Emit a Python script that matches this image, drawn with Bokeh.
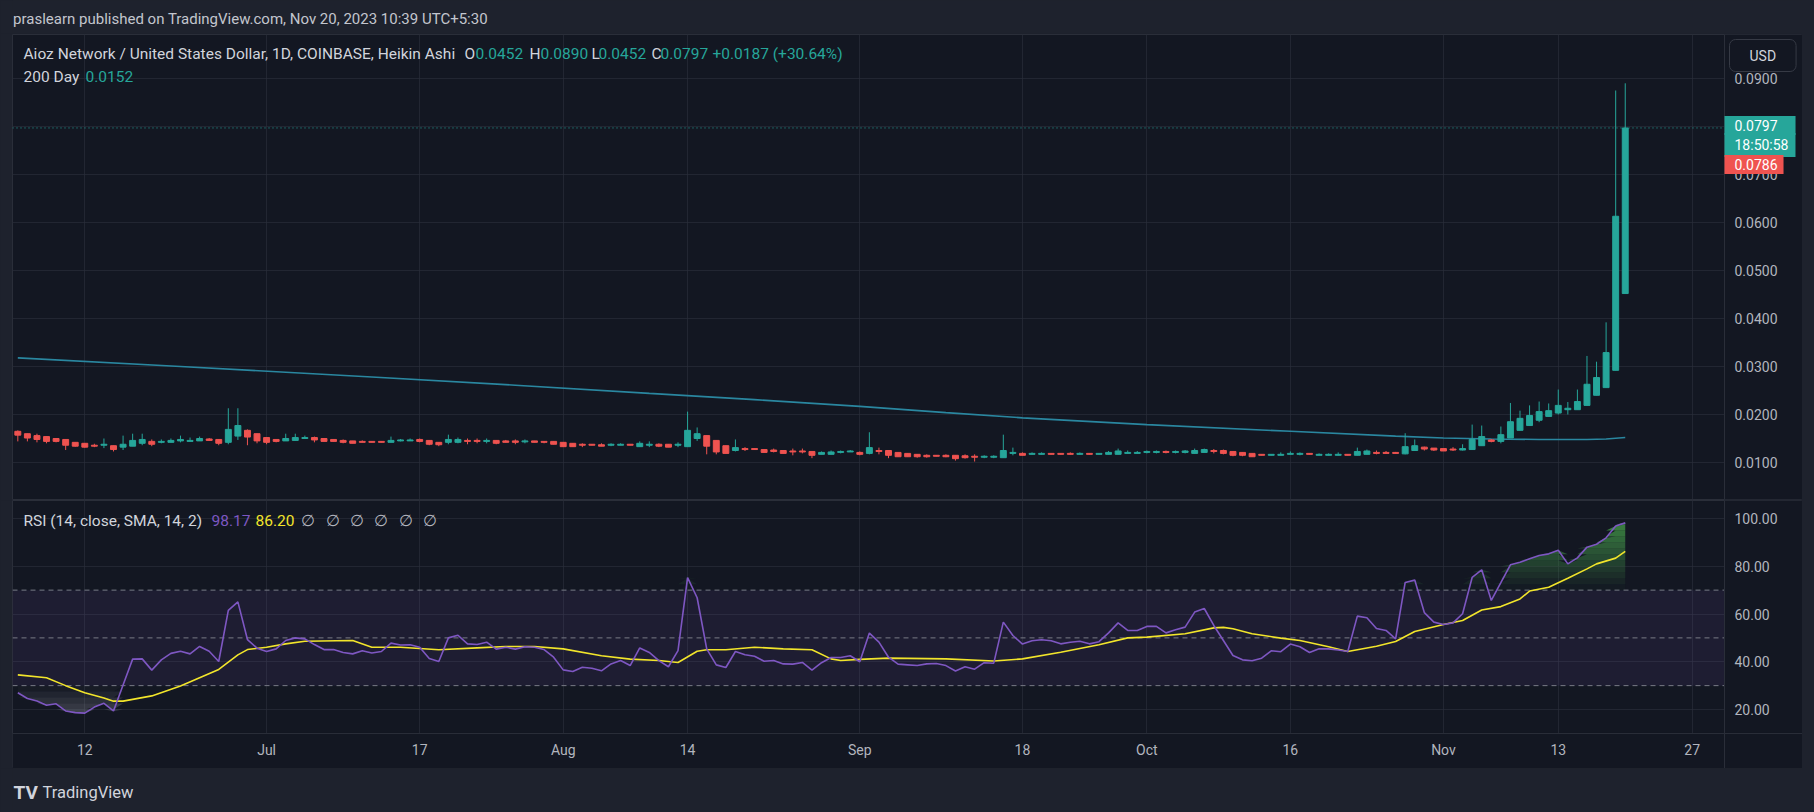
import numpy as np
import pandas as pd
from bokeh.plotting import figure
from bokeh.layouts import column
from bokeh.models import (Range1d, FixedTicker, Label, Span, BoxAnnotation,
                          ColumnDataSource, NumeralTickFormatter, GlobalInlineStyleSheet)
from bokeh.embed import file_html
from bokeh.resources import INLINE

# ---------------- data ----------------
first_bar = "2023-06-05"
last_bar = "2023-11-20"

opens = [
    0.0165, 0.0160, 0.0156, 0.0154, 0.0150, 0.0148, 0.0142, 0.0140, 0.0136, 0.0137,
    0.0135, 0.0132, 0.0134, 0.0140, 0.0144, 0.0142, 0.0142, 0.0145, 0.0145, 0.0145,
    0.0149, 0.0148, 0.0142, 0.0155, 0.0167, 0.0160, 0.0152, 0.0148, 0.0145, 0.0146,
    0.0150, 0.0152, 0.0150, 0.0148, 0.0146, 0.0145, 0.0144, 0.0144, 0.0144, 0.0142,
    0.0145, 0.0145, 0.0148, 0.0146, 0.0142, 0.0142, 0.0142, 0.0146, 0.0146, 0.0145,
    0.0146, 0.0145, 0.0145, 0.0143, 0.0145, 0.0144, 0.0144, 0.0142, 0.0140, 0.0138,
    0.0138, 0.0137, 0.0136, 0.0136, 0.0138, 0.0133, 0.0136, 0.0138, 0.0138, 0.0136,
    0.0133, 0.0150, 0.0156, 0.0146, 0.0135, 0.0125, 0.0129, 0.0129, 0.0127, 0.0126,
    0.0125, 0.0124, 0.0124, 0.0123, 0.0117, 0.0117, 0.0121, 0.0122, 0.0121, 0.0119,
    0.0125, 0.0125, 0.0121, 0.0119, 0.0117, 0.0115, 0.0115, 0.0115, 0.0115, 0.0114,
    0.0113, 0.0111, 0.0111, 0.0110, 0.0119, 0.0119, 0.0117, 0.0117, 0.0119, 0.0119,
    0.0119, 0.0117, 0.0119, 0.0117, 0.0117, 0.0117, 0.0119, 0.0119, 0.0121, 0.0121,
    0.0123, 0.0121, 0.0121, 0.0119, 0.0121, 0.0125, 0.0125, 0.0123, 0.0121, 0.0119,
    0.0117, 0.0115, 0.0115, 0.0117, 0.0117, 0.0119, 0.0115, 0.0115, 0.0115, 0.0117,
    0.0115, 0.0117, 0.0121, 0.0121, 0.0121, 0.0118, 0.0125, 0.0132, 0.0130, 0.0129,
    0.0128, 0.0126, 0.0127, 0.0135, 0.0147, 0.0144, 0.0151, 0.0167, 0.0177, 0.0188,
    0.0196, 0.0203, 0.0210, 0.0210, 0.0219, 0.0240, 0.0256, 0.0292, 0.0452,
]
highs = [
    0.0167, 0.0160, 0.0160, 0.0154, 0.0150, 0.0148, 0.0142, 0.0140, 0.0139, 0.0150,
    0.0135, 0.0156, 0.0160, 0.0160, 0.0148, 0.0148, 0.0150, 0.0156, 0.0152, 0.0154,
    0.0151, 0.0148, 0.0213, 0.0213, 0.0169, 0.0160, 0.0152, 0.0148, 0.0160, 0.0160,
    0.0156, 0.0154, 0.0150, 0.0148, 0.0148, 0.0145, 0.0146, 0.0144, 0.0144, 0.0154,
    0.0149, 0.0150, 0.0150, 0.0146, 0.0142, 0.0158, 0.0152, 0.0150, 0.0150, 0.0150,
    0.0146, 0.0147, 0.0148, 0.0148, 0.0145, 0.0144, 0.0144, 0.0142, 0.0140, 0.0140,
    0.0138, 0.0140, 0.0140, 0.0140, 0.0138, 0.0144, 0.0144, 0.0140, 0.0138, 0.0142,
    0.0206, 0.0173, 0.0156, 0.0146, 0.0135, 0.0148, 0.0132, 0.0129, 0.0127, 0.0129,
    0.0125, 0.0129, 0.0129, 0.0123, 0.0123, 0.0125, 0.0125, 0.0126, 0.0123, 0.0163,
    0.0131, 0.0125, 0.0121, 0.0119, 0.0117, 0.0117, 0.0115, 0.0117, 0.0115, 0.0117,
    0.0117, 0.0115, 0.0115, 0.0158, 0.0131, 0.0121, 0.0121, 0.0121, 0.0119, 0.0119,
    0.0121, 0.0121, 0.0119, 0.0119, 0.0124, 0.0129, 0.0125, 0.0124, 0.0125, 0.0125,
    0.0125, 0.0125, 0.0126, 0.0129, 0.0129, 0.0128, 0.0127, 0.0123, 0.0121, 0.0119,
    0.0117, 0.0117, 0.0121, 0.0123, 0.0121, 0.0119, 0.0119, 0.0119, 0.0121, 0.0117,
    0.0131, 0.0127, 0.0125, 0.0124, 0.0122, 0.0161, 0.0148, 0.0133, 0.0130, 0.0129,
    0.0132, 0.0138, 0.0179, 0.0177, 0.0149, 0.0175, 0.0224, 0.0208, 0.0219, 0.0227,
    0.0223, 0.0252, 0.0226, 0.0252, 0.0322, 0.0310, 0.0392, 0.0875, 0.0890,
]
lows = [
    0.0144, 0.0144, 0.0142, 0.0140, 0.0142, 0.0126, 0.0133, 0.0131, 0.0132, 0.0130,
    0.0123, 0.0126, 0.0134, 0.0136, 0.0134, 0.0140, 0.0142, 0.0142, 0.0145, 0.0145,
    0.0145, 0.0136, 0.0138, 0.0147, 0.0136, 0.0140, 0.0138, 0.0142, 0.0145, 0.0146,
    0.0149, 0.0142, 0.0144, 0.0144, 0.0140, 0.0140, 0.0142, 0.0142, 0.0142, 0.0142,
    0.0144, 0.0145, 0.0142, 0.0136, 0.0134, 0.0138, 0.0140, 0.0138, 0.0140, 0.0140,
    0.0138, 0.0142, 0.0138, 0.0140, 0.0142, 0.0140, 0.0138, 0.0133, 0.0133, 0.0132,
    0.0136, 0.0134, 0.0134, 0.0136, 0.0136, 0.0133, 0.0132, 0.0132, 0.0132, 0.0132,
    0.0133, 0.0145, 0.0117, 0.0117, 0.0119, 0.0123, 0.0124, 0.0127, 0.0121, 0.0121,
    0.0119, 0.0115, 0.0119, 0.0109, 0.0117, 0.0117, 0.0119, 0.0122, 0.0115, 0.0117,
    0.0117, 0.0109, 0.0112, 0.0112, 0.0110, 0.0110, 0.0113, 0.0111, 0.0104, 0.0108,
    0.0102, 0.0109, 0.0109, 0.0110, 0.0115, 0.0115, 0.0117, 0.0117, 0.0117, 0.0117,
    0.0117, 0.0117, 0.0117, 0.0117, 0.0117, 0.0117, 0.0119, 0.0119, 0.0119, 0.0119,
    0.0119, 0.0119, 0.0119, 0.0119, 0.0121, 0.0119, 0.0117, 0.0113, 0.0113, 0.0112,
    0.0115, 0.0115, 0.0115, 0.0117, 0.0115, 0.0117, 0.0115, 0.0115, 0.0115, 0.0115,
    0.0115, 0.0117, 0.0117, 0.0119, 0.0119, 0.0117, 0.0125, 0.0125, 0.0124, 0.0124,
    0.0124, 0.0125, 0.0127, 0.0135, 0.0142, 0.0140, 0.0151, 0.0167, 0.0177, 0.0184,
    0.0196, 0.0200, 0.0200, 0.0210, 0.0219, 0.0240, 0.0256, 0.0292, 0.0452,
]
closes = [
    0.0157, 0.0151, 0.0148, 0.0144, 0.0144, 0.0136, 0.0134, 0.0132, 0.0134, 0.0138,
    0.0127, 0.0138, 0.0146, 0.0148, 0.0138, 0.0144, 0.0146, 0.0148, 0.0146, 0.0150,
    0.0146, 0.0140, 0.0169, 0.0177, 0.0153, 0.0145, 0.0142, 0.0144, 0.0150, 0.0152,
    0.0152, 0.0147, 0.0144, 0.0144, 0.0142, 0.0140, 0.0142, 0.0142, 0.0142, 0.0146,
    0.0147, 0.0147, 0.0144, 0.0138, 0.0137, 0.0148, 0.0148, 0.0145, 0.0145, 0.0146,
    0.0140, 0.0142, 0.0142, 0.0145, 0.0142, 0.0142, 0.0138, 0.0133, 0.0133, 0.0136,
    0.0136, 0.0134, 0.0138, 0.0138, 0.0136, 0.0140, 0.0138, 0.0134, 0.0132, 0.0138,
    0.0167, 0.0160, 0.0134, 0.0122, 0.0119, 0.0131, 0.0127, 0.0127, 0.0121, 0.0123,
    0.0119, 0.0122, 0.0122, 0.0115, 0.0121, 0.0122, 0.0123, 0.0124, 0.0117, 0.0131,
    0.0123, 0.0115, 0.0112, 0.0112, 0.0112, 0.0112, 0.0113, 0.0112, 0.0108, 0.0110,
    0.0111, 0.0113, 0.0113, 0.0125, 0.0121, 0.0115, 0.0119, 0.0119, 0.0117, 0.0117,
    0.0117, 0.0119, 0.0117, 0.0119, 0.0121, 0.0124, 0.0121, 0.0121, 0.0123, 0.0123,
    0.0121, 0.0123, 0.0124, 0.0125, 0.0127, 0.0123, 0.0119, 0.0115, 0.0115, 0.0112,
    0.0115, 0.0117, 0.0117, 0.0119, 0.0119, 0.0117, 0.0117, 0.0117, 0.0117, 0.0115,
    0.0123, 0.0124, 0.0119, 0.0119, 0.0119, 0.0133, 0.0135, 0.0128, 0.0126, 0.0124,
    0.0126, 0.0129, 0.0148, 0.0154, 0.0144, 0.0158, 0.0185, 0.0192, 0.0198, 0.0206,
    0.0208, 0.0219, 0.0213, 0.0227, 0.0263, 0.0277, 0.0329, 0.0613, 0.0797,
]
rsi_values = [
    27.0, 24.6, 23.6, 21.8, 22.4, 19.4, 18.7, 18.5, 21.0, 22.6,
    19.4, 30.3, 41.1, 41.2, 36.5, 40.8, 43.5, 44.4, 43.3, 46.4,
    44.4, 40.1, 61.5, 65.1, 49.3, 45.7, 44.3, 45.4, 48.9, 50.0,
    49.6, 47.2, 45.1, 45.1, 43.9, 43.3, 44.6, 43.7, 44.3, 47.8,
    47.0, 47.1, 46.1, 41.4, 40.1, 50.0, 51.1, 47.5, 47.2, 48.2,
    45.3, 46.1, 45.3, 46.3, 46.1, 45.1, 41.9, 36.6, 35.9, 37.7,
    37.3, 36.2, 39.1, 40.5, 38.4, 45.8, 43.9, 40.5, 37.9, 44.7,
    75.2, 66.8, 45.4, 38.7, 37.6, 44.3, 42.9, 42.3, 40.2, 40.5,
    39.1, 39.0, 39.7, 36.5, 39.6, 41.8, 41.8, 42.5, 40.0, 52.0,
    48.2, 41.9, 39.0, 38.7, 38.4, 39.1, 39.3, 38.4, 36.1, 37.9,
    36.9, 39.6, 39.4, 56.6, 51.0, 47.4, 48.8, 49.2, 48.8, 47.5,
    48.2, 48.6, 47.5, 48.4, 52.1, 56.3, 53.1, 53.1, 54.8, 54.8,
    52.1, 53.4, 54.5, 60.8, 62.3, 55.2, 48.9, 42.6, 40.8, 40.4,
    41.5, 44.6, 44.2, 47.4, 46.3, 43.9, 45.4, 45.4, 44.9, 44.3,
    59.1, 58.4, 53.9, 53.1, 49.6, 73.2, 74.2, 60.6, 56.6, 55.6,
    56.3, 60.1, 75.3, 78.5, 65.7, 73.1, 80.6, 81.7, 83.1, 84.5,
    85.2, 86.7, 81.0, 83.5, 88.0, 89.2, 91.9, 96.9, 98.17,
]

rsi_ma_dates = [
    "2023-06-05", "2023-06-08", "2023-06-10", "2023-06-12", "2023-06-14", "2023-06-15",
    "2023-06-16", "2023-06-19", "2023-06-22", "2023-06-26", "2023-06-28", "2023-06-29",
    "2023-07-01", "2023-07-03", "2023-07-05", "2023-07-10", "2023-07-12", "2023-07-15",
    "2023-07-19", "2023-07-23", "2023-07-26", "2023-07-29", "2023-08-01", "2023-08-05",
    "2023-08-08", "2023-08-11", "2023-08-13", "2023-08-15", "2023-08-16", "2023-08-18",
    "2023-08-21", "2023-08-24", "2023-08-27", "2023-08-29", "2023-08-30", "2023-09-01",
    "2023-09-04", "2023-09-10", "2023-09-15", "2023-09-18", "2023-09-22", "2023-09-26",
    "2023-09-29", "2023-10-01", "2023-10-05", "2023-10-08", "2023-10-09", "2023-10-10",
    "2023-10-12", "2023-10-15", "2023-10-17", "2023-10-20", "2023-10-22", "2023-10-25",
    "2023-10-27", "2023-10-29", "2023-11-01", "2023-11-03", "2023-11-05", "2023-11-07",
    "2023-11-09", "2023-11-10", "2023-11-12", "2023-11-14", "2023-11-16", "2023-11-17",
    "2023-11-19", "2023-11-20",
]
rsi_ma_values = [
    34.5, 33.3, 30.0, 27.0, 24.8, 23.5,
    23.5, 25.7, 29.8, 36.8, 42.9, 45.1,
    46.1, 47.5, 48.6, 48.9, 46.1, 46.1,
    45.0, 45.8, 46.4, 46.4, 45.4, 42.5,
    41.1, 40.5, 39.7, 44.4, 45.0, 45.0,
    46.1, 45.4, 45.0, 41.2, 40.5, 41.0,
    41.5, 41.2, 40.3, 41.2, 44.0, 47.1,
    50.0, 50.3, 51.7, 54.2, 54.4, 53.8,
    51.7, 49.9, 48.9, 46.3, 44.3, 46.5,
    48.5, 52.7, 55.6, 57.3, 61.7, 63.1,
    66.3, 69.6, 71.2, 75.0, 78.9, 81.0,
    83.4, 86.2,
]

ma200_dates = [
    "2023-06-05", "2023-06-22", "2023-07-12", "2023-07-27", "2023-08-10", "2023-08-21",
    "2023-09-01", "2023-09-10", "2023-09-18", "2023-10-01", "2023-10-16", "2023-10-27",
    "2023-11-01", "2023-11-06", "2023-11-11", "2023-11-16", "2023-11-18", "2023-11-20",
]
ma200_values = [
    0.0318, 0.0300, 0.0278, 0.0261, 0.0244, 0.0231,
    0.0217, 0.0204, 0.0193, 0.0179, 0.0165, 0.0155,
    0.0151, 0.0149, 0.0148, 0.0148, 0.0149, 0.0152,
]

time_tick_dates = ["2023-06-12", "2023-07-01", "2023-07-17", "2023-08-01", "2023-08-14",
                   "2023-09-01", "2023-09-18", "2023-10-01", "2023-10-16", "2023-11-01",
                   "2023-11-13", "2023-11-27"]
time_tick_labels = ["12", "Jul", "17", "Aug", "14", "Sep", "18", "Oct", "16", "Nov", "13", "27"]
price_ticks = [0.01, 0.02, 0.03, 0.04, 0.05, 0.06, 0.07, 0.08, 0.09]
rsi_ticks = [20, 40, 60, 80, 100]
rsi_levels = [70, 50, 30]

header_text = "praslearn published on TradingView.com, Nov 20, 2023 10:39 UTC+5:30"
symbol_text = "Aioz Network / United States Dollar, 1D, COINBASE, Heikin Ashi"
ohlc_header = [("O", "0.0452"), ("H", "0.0890"), ("L", "0.0452"), ("C", "0.0797")]
change_text = "+0.0187 (+30.64%)"
ma_legend = ("200 Day", "0.0152")
rsi_legend = "RSI (14, close, SMA, 14, 2)"
rsi_last, rsi_ma_last = "98.17", "86.20"
last_price, countdown, prev_price = "0.0797", "18:50:58", "0.0786"

# ---------------- style ----------------
PAGE = "#1e222d"
BG = "#131722"
BORDER = "#2a2e39"
GRID = "#2a2e39"
TXT = "#d1d4dc"
AXT = "#b2b5be"
UP = "#26a69a"
DOWN = "#ef5350"
MA_C = "#2a87a0"
RSI_C = "#7e57c2"
RSI_MA_C = "#f2e52b"
FONT = "Roboto"
LEG = "15.5px"

LEFT = 12          # page x of the chart block
FW = 1790          # chart block width (panes + price scale)
PX_DAY = 9.568     # pixels per day
X0 = -7.556        # day at the left edge of the panes
SCALE_X = 1712     # x (px inside the block) where the price scale starts
x_scale_day = X0 + SCALE_X / PX_DAY
x_end_day = X0 + FW / PX_DAY

ref = pd.Timestamp(time_tick_dates[0])
def days(ds):
    return np.asarray((pd.to_datetime(ds) - ref).days, dtype=float)

bar_dates = pd.date_range(first_bar, last_bar, freq="D")
bx = days(bar_dates)
o = np.array(opens); h = np.array(highs); l = np.array(lows); c = np.array(closes)
assert len(bx) == len(o) == len(h) == len(l) == len(c) == len(rsi_values)
top = np.maximum(o, c)
bot = np.minimum(o, c)
bot = np.where(top - bot < 0.0002, top - 0.0002, bot)
colors = np.where(c >= o, UP, DOWN)
src = ColumnDataSource(dict(x=bx, h=h, l=l, top=top, bot=bot, color=colors))

tick_x = [int(v) for v in days(time_tick_dates)]
xr = Range1d(X0, x_end_day)


def style_axis(ax, standoff=10):
    ax.axis_line_color = None
    ax.major_tick_line_color = None
    ax.minor_tick_line_color = None
    ax.major_tick_out = 0
    ax.major_tick_in = 0
    ax.minor_tick_out = 0
    ax.minor_tick_in = 0
    ax.major_label_text_color = AXT
    ax.major_label_text_font = FONT
    ax.major_label_text_font_size = "14px"
    ax.major_label_standoff = standoff


def label(p, x, y, text, color, size=LEG, align="left", baseline="middle", **kw):
    lb = Label(x=x, y=y, x_units="screen", y_units="screen", text=text, text_color=color,
               text_font=FONT, text_font_size=size, text_align=align,
               text_baseline=baseline, **kw)
    p.add_layout(lb)
    return lb


def base_fig(**kw):
    return figure(output_backend="svg", toolbar_location=None, **kw)


# ---------------- header strip (its frame is aligned with the panes' frames) ----------------
head = base_fig(width=LEFT + FW, height=33, x_axis_location=None, y_axis_location=None,
                x_range=Range1d(0, 1), y_range=Range1d(0, 1),
                min_border=0, background_fill_color=PAGE, border_fill_color=PAGE,
                outline_line_color=None)
head.grid.visible = False
label(head, 0.6, 15, header_text, "#c3c6ce", size="15px")

# ---------------- price pane ----------------
FH1 = 465
p1 = base_fig(frame_width=FW, frame_height=FH1, x_range=xr,
              y_range=Range1d(0.0022917, 0.099167),
              x_axis_location=None, y_axis_location="right",
              min_border_left=LEFT, min_border_right=0, min_border_top=1, min_border_bottom=1,
              background_fill_color=BG, border_fill_color=PAGE, outline_line_color=BORDER)
p1.yaxis.ticker = FixedTicker(ticks=price_ticks)
p1.yaxis.formatter = NumeralTickFormatter(format="0.0000")
p1.yaxis.fixed_location = x_scale_day
style_axis(p1.yaxis[0])
p1.xgrid.ticker = FixedTicker(ticks=tick_x)
for g in (p1.xgrid, p1.ygrid):
    g.grid_line_color = GRID
    g.grid_line_alpha = 0.7

p1.add_layout(Span(location=closes[-1], dimension="width", line_color=UP,
                   line_dash="1 3", line_width=1, level="underlay"))
p1.line(days(ma200_dates), ma200_values, line_color=MA_C, line_width=1.6)
p1.segment(x0="x", y0="h", x1="x", y1="l", line_color="color", line_width=1, source=src)
p1.vbar(x="x", width=0.62, top="top", bottom="bot", fill_color="color",
        line_color="color", line_width=1, source=src)
# price-scale strip
p1.add_layout(BoxAnnotation(left=x_scale_day, fill_color=BG, fill_alpha=1.0,
                            line_color=None, level="glyph"))
p1.add_layout(Span(location=x_scale_day, dimension="height", line_color=BORDER, line_width=1))

# legend rows
label(p1, 11, FH1 - 19, symbol_text, TXT)
for (k, v), x1, x2 in zip(ohlc_header, [452, 517, 579, 639], [463, 528, 586, 648]):
    label(p1, x1, FH1 - 19, k, TXT)
    label(p1, x2, FH1 - 19, v, UP)
label(p1, 700, FH1 - 19, change_text, UP)
label(p1, 11, FH1 - 42, ma_legend[0], TXT)
label(p1, 73, FH1 - 42, ma_legend[1], UP)

# price labels on the scale (box left edge sits on the scale's left edge)
label(p1, SCALE_X, FH1 - 91, last_price, "#ffffff", size="14px",
      background_fill_color=UP, padding=dict(left=10, right=18, top=4, bottom=4))
label(p1, SCALE_X, FH1 - 110.5, countdown, "#ffffff", size="14px",
      background_fill_color=UP, padding=dict(left=10, right=7, top=4, bottom=4))
label(p1, SCALE_X, FH1 - 130, prev_price, "#ffffff", size="14px",
      background_fill_color=DOWN, padding=dict(left=10, right=6, top=4, bottom=4))
label(p1, SCALE_X + 5, FH1 - 21, "USD", TXT, size="14px",
      background_fill_color=BG, border_line_color="#363a45", border_line_width=1,
      border_radius=6, padding=dict(left=20, right=20, top=8, bottom=8))

# ---------------- RSI pane (with time scale strip at its bottom) ----------------
FH2 = 268
p2 = base_fig(frame_width=FW, frame_height=FH2, x_range=xr, y_range=Range1d(-4.71, 107.54),
              x_axis_location="below", y_axis_location="right",
              min_border_left=LEFT, min_border_right=0, min_border_top=0, min_border_bottom=0,
              background_fill_color=BG, border_fill_color=PAGE, outline_line_color=BORDER)
rsi_axis_bottom = 9.95
p2.yaxis.ticker = FixedTicker(ticks=rsi_ticks)
p2.yaxis.formatter = NumeralTickFormatter(format="0.00")
p2.yaxis.fixed_location = x_scale_day
style_axis(p2.yaxis[0])
p2.xaxis.ticker = FixedTicker(ticks=tick_x)
p2.xaxis.major_label_overrides = {t: s for t, s in zip(tick_x, time_tick_labels)}
p2.xaxis.fixed_location = rsi_axis_bottom
style_axis(p2.xaxis[0], standoff=9)
for g in (p2.xgrid, p2.ygrid):
    g.grid_line_color = GRID
    g.grid_line_alpha = 0.7

p2.add_layout(BoxAnnotation(bottom=rsi_levels[2], top=rsi_levels[0], right=x_scale_day,
                            fill_color=RSI_C, fill_alpha=0.1, line_color=None, level="underlay"))
for lv in rsi_levels:
    p2.add_layout(Span(location=lv, dimension="width", line_color="#787b86",
                       line_dash="5 4", line_width=1, level="underlay"))

r = np.array(rsi_values)
N = 12
ob_lo, ob_hi = rsi_levels[0], 100.0
step = (ob_hi - ob_lo) / N
for k in range(N):
    lo = ob_lo + k * step
    y2 = np.clip(r, lo, lo + step)
    p2.varea(x=bx, y1=np.full_like(r, lo), y2=y2, fill_color="#4caf50",
             fill_alpha=0.75 * (k + 0.5) / N)
os_hi = rsi_levels[2]
step2 = os_hi / N
for k in range(N):
    hi = os_hi - k * step2
    y2 = np.clip(r, hi - step2, hi)
    p2.varea(x=bx, y1=np.full_like(r, hi), y2=y2, fill_color="#9598a1",
             fill_alpha=0.9 * (k + 0.5) / N)

p2.line(days(rsi_ma_dates), rsi_ma_values, line_color=RSI_MA_C, line_width=1.6)
p2.line(bx, r, line_color=RSI_C, line_width=1.6)

# scale strips
p2.add_layout(BoxAnnotation(left=x_scale_day, fill_color=BG, fill_alpha=1.0,
                            line_color=None, level="glyph"))
p2.add_layout(BoxAnnotation(top=rsi_axis_bottom, fill_color=BG, fill_alpha=1.0,
                            line_color=None, level="glyph"))
p2.add_layout(Span(location=x_scale_day, dimension="height", line_color=BORDER, line_width=1))
p2.add_layout(Span(location=rsi_axis_bottom, dimension="width", line_color=BORDER, line_width=1))

label(p2, 11, FH2 - 20, rsi_legend, TXT)
label(p2, 199, FH2 - 20, rsi_last, RSI_C)
label(p2, 243, FH2 - 20, rsi_ma_last, RSI_MA_C)
for xx in [295, 320, 344, 368, 393, 417]:
    label(p2, xx, FH2 - 20, "\u2205", AXT, align="center")

# ---------------- footer (frame aligned with the panes' frames) ----------------
foot = base_fig(width=LEFT + FW, height=44, x_axis_location=None, y_axis_location=None,
                x_range=Range1d(0, 1), y_range=Range1d(0, 1),
                min_border=0, background_fill_color=PAGE, border_fill_color=PAGE,
                outline_line_color=None)
foot.grid.visible = False
label(foot, 1, 20, "TV", TXT, size="19px", text_font_style="bold")
label(foot, 30, 20, "TradingView", TXT, size="16.5px")

page = column(head, p1, p2, foot, spacing=0, styles={"background-color": PAGE},
              stylesheets=[GlobalInlineStyleSheet(
                  css="html,body{background-color:#1e222d;margin:0;padding:0;}")])

open("out.html", "w").write(file_html(page, INLINE))
